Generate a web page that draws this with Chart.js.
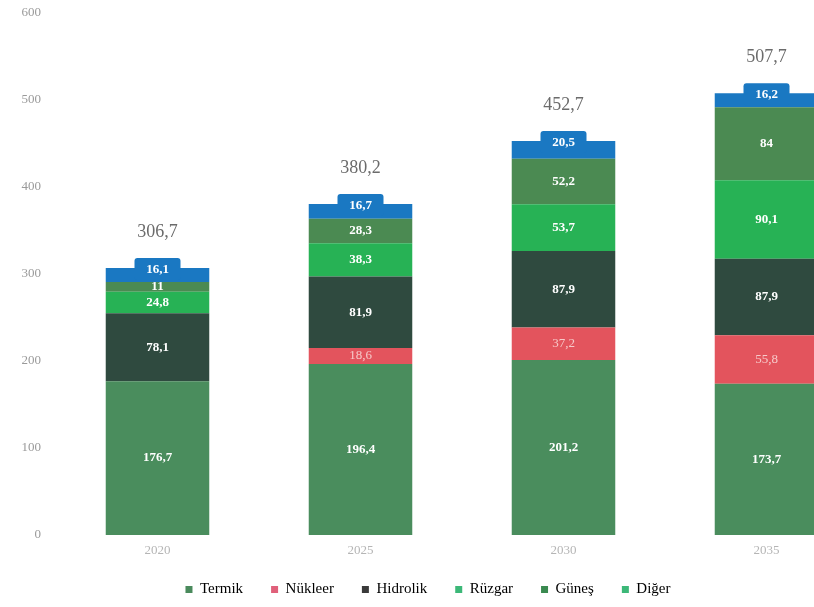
<!DOCTYPE html>
<html lang="tr">
<head>
<meta charset="UTF-8">
<title>Kurulu güç</title>
<script src="https://cdn.jsdelivr.net/npm/chart.js@4/dist/chart.umd.min.js"></script>
<style>
    html, body { margin: 0; padding: 0; background: #fff; overflow: hidden; }
    #wrap { position: absolute; left: -12px; top: -10px; width: 892px; height: 617px; }
</style>
</head>
<body>
<div id="wrap"><canvas id="c"></canvas></div>
<script>
    var years = ['2020', '2025', '2030', '2035'];
    var termik   = [176.7, 196.4, 201.2, 173.7];
    var nukleer  = [0, 18.6, 37.2, 55.8];
    var hidrolik = [78.1, 81.9, 87.9, 87.9];
    var ruzgar   = [24.8, 38.3, 53.7, 90.1];
    var gunes    = [11, 28.3, 52.2, 84];
    var diger    = [16.1, 16.7, 20.5, 16.2];
    var toplam   = [306.7, 380.2, 452.7, 507.7];
    var yTicks   = [0, 100, 200, 300, 400, 500, 600];

    var serif = '"Liberation Serif", "DejaVu Serif", serif';

    // sayıyı virgüllü yaz
    function fmt(v) {
        return String(v).replace('.', ',');
    }

    // segment etiketleri + üst toplamlar
    var labelPlugin = {
        id: 'labels',
        afterDatasetsDraw: function(chart) {
            var ctx = chart.ctx;
            ctx.save();
            ctx.textAlign = 'center';
            ctx.textBaseline = 'middle';
            chart.data.datasets.forEach(function(ds, di) {
                var meta = chart.getDatasetMeta(di);
                meta.data.forEach(function(bar, i) {
                    var v = ds.data[i];
                    if (!v) return;
                    var cy = (bar.y + bar.base) / 2;
                    if (ds.label == 'Diğer') {
                        // mavi etiket kutusu
                        ctx.fillStyle = '#1a78c2';
                        ctx.beginPath();
                        ctx.roundRect(bar.x - 23, bar.y - 10, 46, 22, 3);
                        ctx.fill();
                        cy = bar.y + 2;
                    }
                    if (ds.label == 'Nükleer') {
                        ctx.font = '13px ' + serif;
                        ctx.fillStyle = '#f6c9c9';
                    } else {
                        ctx.font = 'bold 13px ' + serif;
                        ctx.fillStyle = '#ffffff';
                    }
                    ctx.fillText(fmt(v), bar.x, cy);
                });
            });
            // toplamlar
            var last = chart.getDatasetMeta(chart.data.datasets.length - 1);
            ctx.font = '18px ' + serif;
            ctx.fillStyle = '#6b6b6b';
            last.data.forEach(function(bar, i) {
                ctx.fillText(fmt(toplam[i]), bar.x, bar.y - 36);
            });
            ctx.restore();
        }
    };

    // lejant yüksekliğini sabitle
    var legendHeight = {
        id: 'legendHeight',
        beforeInit: function(chart) {
            var fit = chart.legend.fit;
            chart.legend.fit = function() {
                fit.bind(chart.legend)();
                this.height = 53;
            };
        }
    };

    var legendColors = ['#4a8a5c', '#e0607a', '#3a3a3a', '#3cb878', '#3a8a50', '#3cb878'];

    new Chart(document.getElementById('c'), {
        type: 'bar',
        data: {
            labels: years,
            datasets: [
                { label: 'Termik',   data: termik,   backgroundColor: '#4a8d5d' },
                { label: 'Nükleer',  data: nukleer,  backgroundColor: '#e3545d' },
                { label: 'Hidrolik', data: hidrolik, backgroundColor: '#2f4a3f' },
                { label: 'Rüzgar',   data: ruzgar,   backgroundColor: '#27b255' },
                { label: 'Güneş',    data: gunes,    backgroundColor: '#4b8a52' },
                { label: 'Diğer',    data: diger,    backgroundColor: '#1a78c2' }
            ]
        },
        options: {
            responsive: true,
            maintainAspectRatio: false,
            animation: false,
            categoryPercentage: 1,
            barPercentage: 0.51,
            layout: { padding: { top: 0, right: 12, left: 0, bottom: 0 } },
            scales: {
                x: {
                    stacked: true,
                    clip: false,
                    afterFit: function(scale) { scale.height = 19; },
                    grid: { display: false, drawTicks: false },
                    border: { display: false },
                    ticks: { color: '#b5b5b5', font: { family: serif, size: 13 }, padding: 8 }
                },
                y: {
                    stacked: true,
                    min: 0,
                    max: 600,
                    clip: false,
                    afterBuildTicks: function(scale) {
                        scale.ticks = yTicks.map(function(v) { return { value: v }; });
                    },
                    afterFit: function(scale) { scale.width = 68; },
                    grid: { display: false, drawTicks: false },
                    border: { display: false },
                    ticks: { color: '#9a9a9a', font: { family: serif, size: 13 }, padding: 15 }
                }
            },
            plugins: {
                tooltip: { enabled: false },
                legend: {
                    position: 'bottom',
                    labels: {
                        boxWidth: 7,
                        boxHeight: 7,
                        padding: 28,
                        color: '#777777',
                        font: { family: serif, size: 15 },
                        generateLabels: function(chart) {
                            return chart.data.datasets.map(function(ds, i) {
                                return {
                                    text: ds.label,
                                    fillStyle: legendColors[i],
                                    strokeStyle: legendColors[i],
                                    lineWidth: 0,
                                    datasetIndex: i
                                };
                            });
                        }
                    }
                }
            }
        },
        plugins: [labelPlugin, legendHeight]
    });
</script>
</body>
</html>
